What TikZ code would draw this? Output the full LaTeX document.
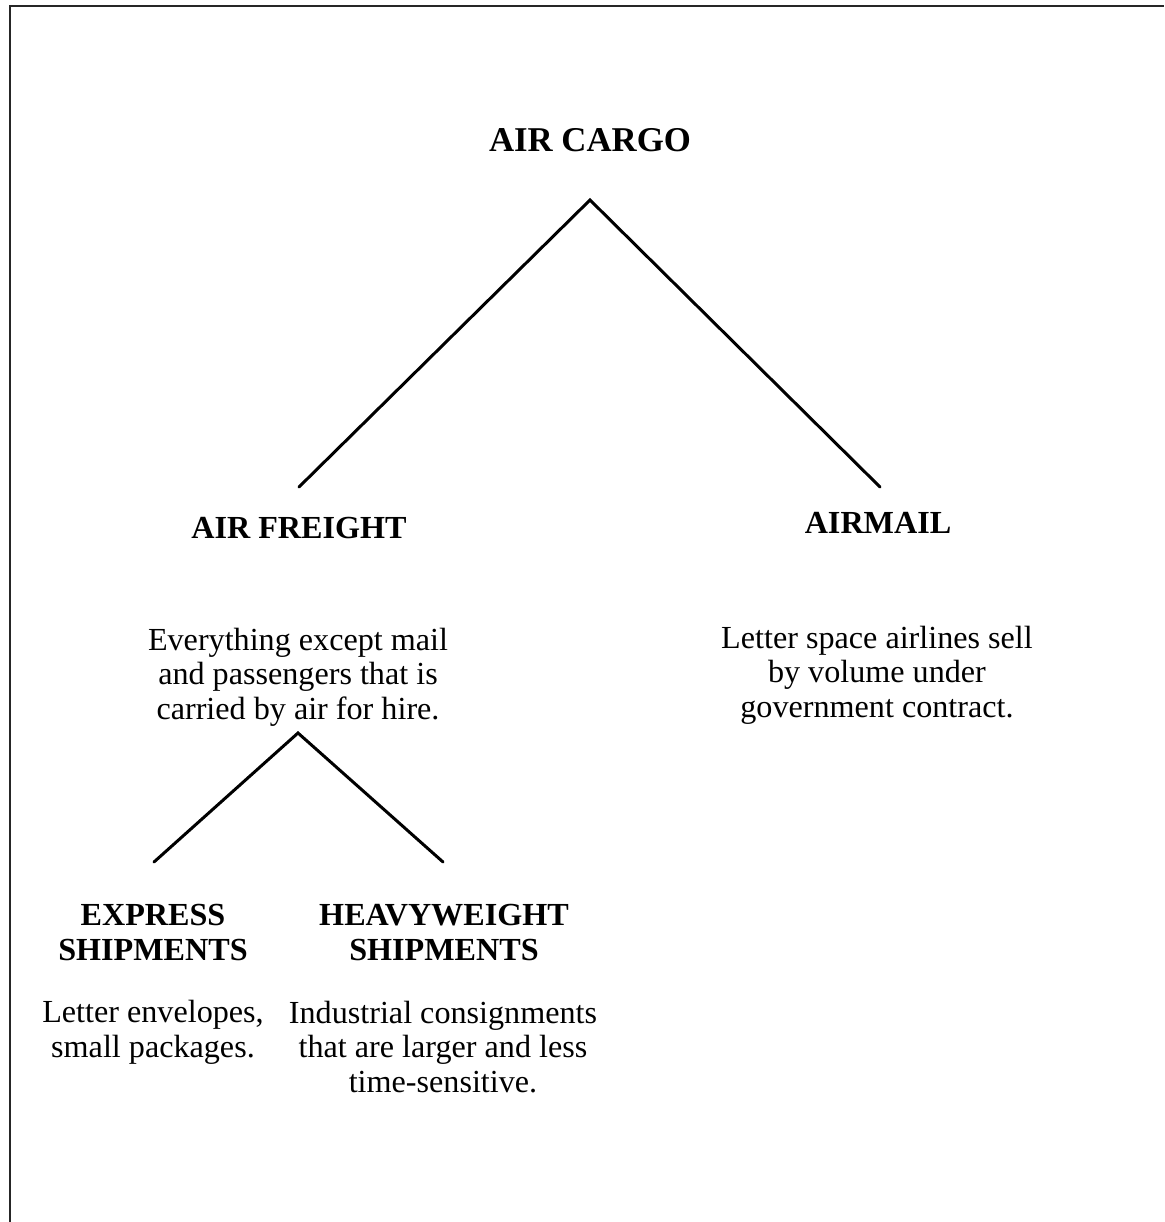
\documentclass[tikz,border=0pt]{standalone}
\usepackage{fontspec}
\setmainfont{Liberation Serif}
\tikzset{
  head/.style={inner sep=0pt, align=center, font=\bfseries\fontsize{18.3}{19.9}\selectfont},
  desc/.style={inner sep=0pt, align=center, font=\fontsize{18.3}{19.6}\selectfont},
  branch/.style={line width=1.7pt, line cap=round, line join=miter},
}
\begin{document}
\begin{tikzpicture}[x=0.02cm, y=-0.02cm]
    \useasboundingbox (0,0) rectangle (1164,1222);
    % frame (top and left edge only)
    \draw[line width=1.1pt, black!85] (10,1222) -- (10,6) -- (1164,6);
    % headings (base = last line)
    \node[head, font=\bfseries\fontsize{19.8}{23}\selectfont, anchor=base] (cargo) at (590,152) {AIR CARGO};
    \node[head, anchor=base] (freight) at (299,538) {AIR FREIGHT};
    \node[head, anchor=base] (airmail) at (878,533) {AIRMAIL};
    \node[head, anchor=base] (express) at (153,960) {EXPRESS\\SHIPMENTS};
    \node[head, anchor=base] (heavy) at (444,960) {HEAVYWEIGHT\\SHIPMENTS};
    % descriptions
    \node[desc, anchor=base] (freight-text) at (298,719) {Everything except mail\\and passengers that is\\carried by air for hire.};
    \node[desc, anchor=base] (airmail-text) at (877,717) {Letter space airlines sell\\by volume under\\government contract.};
    \node[desc, anchor=base] (express-text) at (153,1057) {Letter envelopes,\\small packages.};
    \node[desc, anchor=base] (heavy-text) at (443,1092) {Industrial consignments\\that are larger and less\\time-sensitive.};
    % branch points
    \coordinate (cargo-apex) at (590,200);
    \coordinate (freight-end) at (299,487);
    \coordinate (airmail-end) at (880,487);
    \coordinate (freight-apex) at (298,733);
    \coordinate (express-end) at (154,862);
    \coordinate (heavy-end) at (443,862);
    % branches
    \draw[branch] (freight-end) -- (cargo-apex) -- (airmail-end);
    \draw[branch] (express-end) -- (freight-apex) -- (heavy-end);
\end{tikzpicture}
\end{document}
